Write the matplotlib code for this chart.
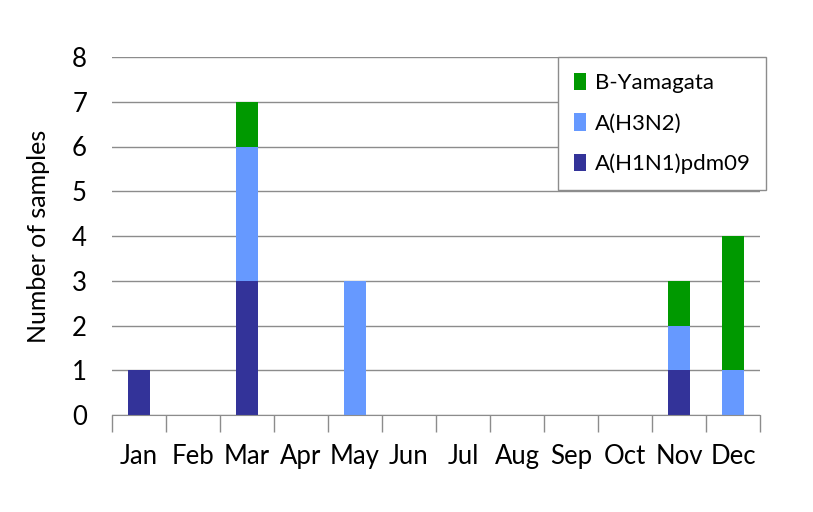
import numpy as np
import matplotlib
matplotlib.use("Agg")
import matplotlib.pyplot as plt
from matplotlib.ticker import FixedLocator

months = ["Jan", "Feb", "Mar", "Apr", "May", "Jun", "Jul", "Aug", "Sep", "Oct", "Nov", "Dec"]
h1n1 = [1, 0, 3, 0, 0, 0, 0, 0, 0, 0, 1, 0]
h3n2 = [0, 0, 3, 0, 3, 0, 0, 0, 0, 0, 1, 1]
byam = [0, 0, 1, 0, 0, 0, 0, 0, 0, 0, 1, 3]

plt.rcParams["font.family"] = ["Lato", "DejaVu Sans"]

fig = plt.figure(figsize=(8.13, 5.12), dpi=100)
ax = fig.add_axes([112/813, 97/512, 648/813, 358/512])

x = np.arange(len(months))
w = 0.41
b1 = ax.bar(x, h1n1, w, color="#333399", label="A(H1N1)pdm09", zorder=3)
b2 = ax.bar(x, h3n2, w, bottom=h1n1, color="#6699FF", label="A(H3N2)", zorder=3)
bot = np.array(h1n1) + np.array(h3n2)
b3 = ax.bar(x, byam, w, bottom=bot, color="#009900", label="B-Yamagata", zorder=3)

ax.set_xlim(-0.5, 11.5)
ax.set_ylim(0, 8)
ax.set_yticks(range(0, 9))
ax.yaxis.grid(True, color="#8c8c8c", lw=1.0, zorder=0)
for s in ["left", "right", "top"]:
    ax.spines[s].set_visible(False)
ax.spines["bottom"].set_color("#8c8c8c")
ax.spines["bottom"].set_zorder(4)
ax.tick_params(axis="y", length=0, pad=18, labelsize=18.5)
ax.set_xticks(x)
ax.set_xticklabels(months)
ax.tick_params(axis="x", which="major", length=0, pad=21, labelsize=18.5)
ax.xaxis.set_minor_locator(FixedLocator(np.arange(-0.5, 12, 1)))
ax.tick_params(axis="x", which="minor", length=12, color="#8c8c8c", width=1)
ax.set_ylabel("Number of samples", fontsize=18, labelpad=16)

leg = ax.legend(handles=[b3, b2, b1], loc="upper right", bbox_to_anchor=(1.01, 1.0),
                fontsize=16, frameon=True, fancybox=False, framealpha=1,
                handlelength=0.55, handleheight=0.85, handletextpad=0.4,
                labelspacing=0.9, borderpad=0.7, borderaxespad=0)
leg.get_frame().set_edgecolor("#8c8c8c")
leg.get_frame().set_linewidth(1.0)
leg.set_zorder(5)

fig.savefig("out.png", dpi=100)
